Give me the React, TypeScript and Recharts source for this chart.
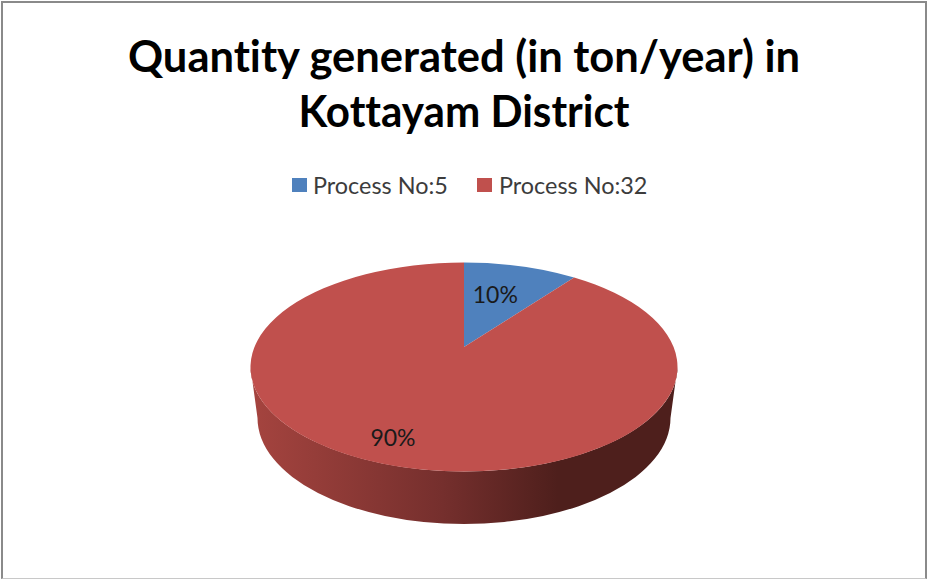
import React from 'react';
import {PieChart, Pie, Cell, Legend} from 'recharts';

// ── Data ────────────────────────────────────────────────────

const PROCESSES = ['Process No:5', 'Process No:32'];
const SHARES = [10, 90];
const TITLE_LINES = ['Quantity generated (in ton/year) in', 'Kottayam District'];

const chartData = PROCESSES.map((name, i) => ({name, value: SHARES[i]}));

// ── Constants ───────────────────────────────────────────────

const WIDTH = 927;
const HEIGHT = 579;
const COLORS = ['#4f81bd', '#c0504d'];
const FONT = 'Lato, Carlito, sans-serif';
const LEGEND_HEIGHT = 30;
const TITLE_WIDTHS = [672, 331];

// tilted pie: the rim is an ellipse whose centre sits below the apex
const APEX_X = 464;
const APEX_Y = 347;
const RX = 213.5;
const RY = 104.5;
const RIM_DROP = 20;
const WALL_DROP = 51;
const WALL_INSET = 7;
const WALL_RY = 106;

const LABEL_SPOTS = [
  {t: 0.55, dx: 1, dy: -8},
  {t: 0.8, dx: -27, dy: -7},
];

function rimPoint(cx: number, cy: number, angle: number) {
  // clockwise from twelve o'clock, squeezed a little by the perspective
  const clock = ((90 - angle) * Math.PI) / 180;
  const warped = clock - ((5.2 * Math.PI) / 180) * Math.sin(2 * clock);
  return {
    x: cx + RX * Math.sin(warped),
    y: cy + RIM_DROP - RY * Math.cos(warped),
  };
}

// ── Custom Sector ───────────────────────────────────────────

function TiltedSector(props: any) {
  const {cx, cy, startAngle, endAngle, fill} = props;
  const a = rimPoint(cx, cy, startAngle);
  const b = rimPoint(cx, cy, endAngle);
  const large = Math.abs(endAngle - startAngle) > 180 ? 1 : 0;
  const top = `M${cx},${cy} L${a.x},${a.y} A${RX},${RY} 0 ${large} 1 ${b.x},${b.y} Z`;

  const rimY = cy + RIM_DROP;
  const wallY = rimY + WALL_DROP;
  const rx2 = RX - WALL_INSET;
  const showWall = Math.abs(endAngle - startAngle) > 180;
  const wall =
    `M${cx - RX},${rimY} L${cx - rx2},${wallY} A${rx2},${WALL_RY} 0 0 0 ${cx + rx2},${wallY} ` +
    `L${cx + RX},${rimY} A${RX},${RY} 0 0 1 ${cx - RX},${rimY} Z`;

  return (
    <g>
      {showWall && <path d={wall} fill="url(#wallShade)" />}
      <path d={top} fill={fill} />
    </g>
  );
}

function SliceLabel(props: any) {
  const {cx, cy, midAngle, percent, index} = props;
  const rim = rimPoint(cx, cy, midAngle);
  const spot = LABEL_SPOTS[index];
  return (
    <text
      x={cx + (rim.x - cx) * spot.t + spot.dx}
      y={cy + (rim.y - cy) * spot.t + spot.dy}
      textAnchor="middle"
      dominantBaseline="central"
      fill="#1a1a1a"
      fontFamily={FONT}
      fontSize={23}
    >
      {`${Math.round(percent * 100)}%`}
    </text>
  );
}

function LegendRow({payload}: any) {
  return (
    <div style={{position: 'relative', height: LEGEND_HEIGHT}}>
      {(payload ?? []).map((entry: any, i: number) => (
        <div
          key={i}
          style={{
            position: 'absolute',
            left: i === 0 ? 292 : 477,
            top: 0,
            display: 'flex',
            alignItems: 'center',
            height: LEGEND_HEIGHT,
            whiteSpace: 'nowrap',
          }}
        >
          <span style={{width: 15, height: 14, background: entry.color, marginRight: i === 0 ? 6 : 7}} />
          <span style={{fontFamily: FONT, fontSize: 23.4, color: '#3c3c3c'}}>{entry.value}</span>
        </div>
      ))}
    </div>
  );
}

export default function App() {
  return (
    <div style={{position: 'fixed', left: 0, top: 0, width: WIDTH, height: HEIGHT, background: '#fff'}}>
      <PieChart width={WIDTH} height={HEIGHT} margin={{top: 0, right: 0, bottom: 0, left: 0}}>
        <defs>
          <linearGradient id="wallShade" x1="0" y1="0" x2="1" y2="0">
            <stop offset="0" stopColor="#a5443f" />
            <stop offset="0.45" stopColor="#752f2d" />
            <stop offset="0.72" stopColor="#4e1f1c" />
            <stop offset="1" stopColor="#4e1f1c" />
          </linearGradient>
        </defs>
        {TITLE_LINES.map((line, i) => (
          <text
            key={line}
            x={464}
            y={72 + i * 55}
            textAnchor="middle"
            textLength={TITLE_WIDTHS[i]}
            lengthAdjust="spacingAndGlyphs"
            fontFamily={FONT}
            fontWeight={700}
            fontSize={43.5}
            fill="#000"
            style={{fontVariantLigatures: 'none'}}
          >
            {line}
          </text>
        ))}
        <Legend
          content={<LegendRow />}
          verticalAlign="top"
          itemSorter={null}
          wrapperStyle={{position: 'absolute', top: 170, left: 0, width: WIDTH}}
        />
        <Pie
          data={chartData}
          dataKey="value"
          nameKey="name"
          cx={APEX_X}
          cy={APEX_Y - LEGEND_HEIGHT}
          outerRadius={RX}
          startAngle={90}
          endAngle={-270}
          stroke="none"
          shape={<TiltedSector />}
          label={<SliceLabel />}
          labelLine={false}
          isAnimationActive={false}
        >
          {chartData.map((d, i) => (
            <Cell key={d.name} fill={COLORS[i]} />
          ))}
        </Pie>
      </PieChart>
      <div
        style={{
          position: 'absolute',
          left: 1,
          top: 1,
          right: 0,
          bottom: 0,
          borderTop: '2px solid #8a8a8a',
          borderLeft: '2px solid #8a8a8a',
          borderRight: '2px solid #8a8a8a',
          borderBottom: '1px solid #c8c8c8',
          pointerEvents: 'none',
        }}
      />
    </div>
  );
}
